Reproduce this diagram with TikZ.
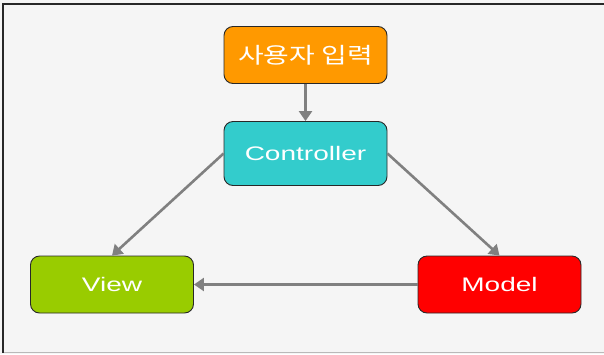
\documentclass[tikz,border=0pt]{standalone}
\usepackage{fontspec}
\usetikzlibrary{arrows.meta}
\newfontfamily\latfont{Liberation Sans}[FakeStretch=1.43]
\newfontfamily\kofont{Noto Sans CJK KR}[FakeStretch=1.27]
\definecolor{bgfill}{RGB}{245,245,245}
\definecolor{framedark}{RGB}{40,40,40}
\definecolor{framelight}{RGB}{185,185,185}
\definecolor{inputorange}{RGB}{255,153,0}
\definecolor{ctrlcyan}{RGB}{51,204,204}
\definecolor{viewgreen}{RGB}{153,204,0}
\definecolor{modelred}{RGB}{255,0,0}
\definecolor{flowgray}{RGB}{128,128,128}
\tikzset{
  box/.style={draw=framedark, line width=0.9pt, rounded corners=9pt,
    minimum width=163pt, minimum height=57pt, text=white, inner sep=0pt},
  flow/.style={draw=flowgray, line width=2.6pt,
    -{Triangle[length=10pt,width=13pt]}, shorten >=0pt}
}
\begin{document}
\begin{tikzpicture}[x=1pt,y=-1pt]
  % canvas and frame
  \useasboundingbox (0,0) rectangle (604,354);
  \fill[bgfill] (0,0) rectangle (604,354);
  \draw[framelight, line width=1.2pt] (3,352.5) -- (604,352.5);
  \draw[framedark, line width=2pt] (604,4) -- (3,4) -- (3,352.5);

  % blocks
  \node[box, fill=inputorange] (input) at (305.5,55)
    {\kofont\fontsize{22}{24}\selectfont 사용자 입력};
  \node[box, fill=ctrlcyan, minimum height=64pt] (ctrl) at (305.5,153.5)
    {\latfont\fontsize{19.6}{22}\selectfont Controller};
  \node[box, fill=viewgreen] (view) at (112,284.5)
    {\latfont\fontsize{19.6}{22}\selectfont View};
  \node[box, fill=modelred] (model) at (499.5,284.5)
    {\latfont\fontsize{19.6}{22}\selectfont Model};

  % flows
  \draw[flow] (input) -- (ctrl);
  \draw[flow] (ctrl.west) -- (view.north);
  \draw[flow] (ctrl.east) -- (model.north);
  \draw[flow] (model) -- (view);
\end{tikzpicture}
\end{document}
